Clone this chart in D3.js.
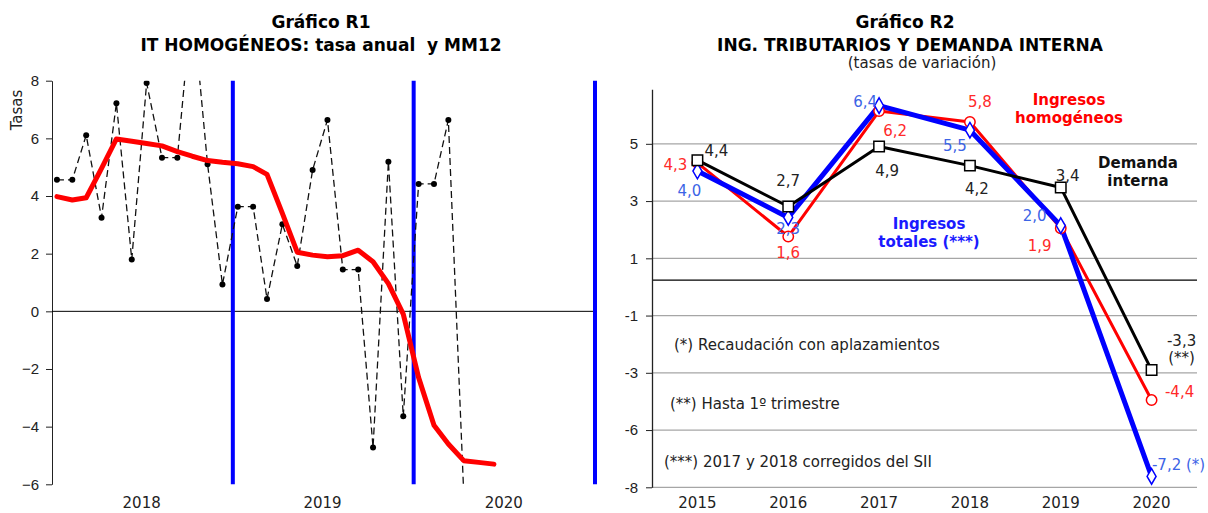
<!DOCTYPE html>
<html>
<head>
<meta charset="utf-8">
<script src="https://cdn.jsdelivr.net/npm/d3@7"></script>
<style>
  body { margin: 0; background: #fff; }
  svg { display: block; font-family: "DejaVu Sans", Verdana, sans-serif; }
  .tick line { stroke: #222; }
  .tick text { fill: #222; font-size: 15px; }
</style>
</head>
<body>
<svg id="chart" width="1208" height="513"></svg>
<script>
// ---- Gráfico R1: datos mensuales (ene-2018 .. abr-2020) y media móvil 12 meses
const itMensual = [
  4.56, 4.56, 6.11, 3.25, 7.22, 1.80, 7.92, 5.33, 5.33, 10.8, 5.10, 0.93,
  3.63, 3.63, 0.43, 3.02, 1.57, 4.90, 6.64, 1.45, 1.45, -4.72, 5.19, -3.64,
  4.42, 4.42, 6.64, -6.3];
const itMM12 = [
  3.98, 3.86, 3.94, 4.96, 5.98, 5.90, 5.82, 5.74, 5.54, 5.38, 5.23, 5.17,
  5.12, 5.02, 4.75, 3.40, 2.05, 1.95, 1.89, 1.93, 2.12, 1.72, 0.96, -0.10,
  -2.30, -3.95, -4.60, -5.18, -5.24, -5.30];
const ticksR1 = [-6, -4, -2, 0, 2, 4, 6, 8];
const yearsR1 = [2018, 2019, 2020];

// ---- Gráfico R2: tasas anuales
const anios = ['2015', '2016', '2017', '2018', '2019', '2020'];
const demanda = [4.4, 2.7, 4.9, 4.2, 3.4, -3.3];
const homogeneos = [4.3, 1.6, 6.2, 5.8, 1.9, -4.4];
const totales = [4.0, 2.3, 6.4, 5.5, 2.0, -7.2];
const demandaLab = ['4,4', '2,7', '4,9', '4,2', '3,4', '-3,3'];
const homogeneosLab = ['4,3', '1,6', '6,2', '5,8', '1,9', '-4,4'];
const totalesLab = ['4,0', '2,3', '6,4', '5,5', '2,0', '-7,2 (*)'];
// the original axis puts these labels on evenly spaced gridlines
const gridR2 = [5.0, 2.9, 0.8, -1.3, -3.4, -5.5, -7.6];
const gridR2Lab = ['5', '3', '1', '-1', '-3', '-6', '-8'];
const notas = [
  '(*) Recaudación con aplazamientos',
  '(**) Hasta 1º trimestre',
  '(***) 2017 y 2018 corregidos del SII'];

const svg = d3.select('#chart');

// ================= R1 =================
const monthDates = d3.range(30).map(i => new Date(2018, i, 11));
const x1 = d3.scaleTime()
  .domain([new Date(2018, 0, 1), new Date(2021, 0, 1)])
  .range([52, 595]);
const y1 = d3.scaleLinear().domain([-6, 8]).range([484.3, 80.7]);

svg.append('clipPath').attr('id', 'clipR1')
  .append('rect')
  .attr('x', 52).attr('y', y1(8))
  .attr('width', 543).attr('height', y1(-6) - y1(8));

const g1 = svg.append('g');

g1.append('g')
  .attr('transform', 'translate(52,0)')
  .call(d3.axisLeft(y1).tickValues(ticksR1).tickSize(6).tickSizeOuter(0).tickPadding(7))
  .call(g => g.select('.domain').attr('stroke', '#222'));

g1.append('line')
  .attr('x1', 52).attr('x2', 595)
  .attr('y1', y1(0)).attr('y2', y1(0))
  .attr('stroke', '#000');

// year separators
g1.selectAll('line.sep')
  .data(yearsR1.map(y => new Date(y + 1, 0, 1)))
  .join('line')
  .attr('class', 'sep')
  .attr('x1', d => x1(d)).attr('x2', d => x1(d))
  .attr('y1', y1(8)).attr('y2', y1(-6))
  .attr('stroke', '#0000ff')
  .attr('stroke-width', 4);

const clipped = g1.append('g').attr('clip-path', 'url(#clipR1)');

clipped.append('path')
  .datum(itMensual)
  .attr('fill', 'none')
  .attr('stroke', '#111')
  .attr('stroke-width', 1.3)
  .attr('stroke-dasharray', '7,4')
  .attr('d', d3.line().x((d, i) => x1(monthDates[i])).y(d => y1(d)));

clipped.selectAll('circle')
  .data(itMensual)
  .join('circle')
  .attr('cx', (d, i) => x1(monthDates[i]))
  .attr('cy', d => y1(d))
  .attr('r', 3)
  .attr('fill', '#000');

g1.append('path')
  .datum(itMM12)
  .attr('fill', 'none')
  .attr('stroke', '#ff0000')
  .attr('stroke-width', 5)
  .attr('stroke-linejoin', 'round')
  .attr('stroke-linecap', 'round')
  .attr('d', d3.line().x((d, i) => x1(monthDates[i])).y(d => y1(d)));

g1.selectAll('text.year')
  .data(yearsR1)
  .join('text')
  .attr('class', 'year')
  .attr('x', d => x1(new Date(d, 6, 1)))
  .attr('y', 508)
  .attr('text-anchor', 'middle')
  .attr('font-size', 15)
  .attr('fill', '#222')
  .text(d => d);

g1.append('text')
  .attr('transform', 'translate(22,110) rotate(-90)')
  .attr('text-anchor', 'middle')
  .attr('font-size', 15)
  .attr('fill', '#222')
  .text('Tasas');

g1.append('text')
  .attr('x', 321).attr('y', 28)
  .attr('text-anchor', 'middle')
  .attr('font-size', 17).attr('font-weight', 'bold')
  .text('Gráfico R1');
g1.append('text')
  .attr('x', 321).attr('y', 51)
  .attr('text-anchor', 'middle')
  .attr('font-size', 17).attr('font-weight', 'bold')
  .attr('xml:space', 'preserve')
  .text('IT HOMOGÉNEOS: tasa anual  y MM12');

// ================= R2 =================
const x2 = d3.scalePoint().domain(anios).range([652, 1197]).padding(0.5);
const y2 = d3.scaleLinear().domain([-7.6, 7.0]).range([487.3, 89.3]);

const g2 = svg.append('g');

g2.selectAll('line.grid')
  .data(gridR2)
  .join('line')
  .attr('class', 'grid')
  .attr('x1', 652).attr('x2', 1197)
  .attr('y1', d => y2(d)).attr('y2', d => y2(d))
  .attr('stroke', '#a6a6a6')
  .attr('stroke-width', 1.2);

g2.append('line')
  .attr('x1', 652).attr('x2', 1197)
  .attr('y1', y2(0)).attr('y2', y2(0))
  .attr('stroke', '#000')
  .attr('stroke-width', 1.3);

g2.append('g')
  .attr('transform', 'translate(652,0)')
  .call(d3.axisLeft(y2).tickValues(gridR2)
    .tickFormat((d, i) => gridR2Lab[i])
    .tickSize(6).tickSizeOuter(0).tickPadding(8))
  .call(g => g.select('.domain').attr('stroke', '#222').attr('stroke-width', 1.3));

g2.selectAll('text.cat')
  .data(anios)
  .join('text')
  .attr('class', 'cat')
  .attr('x', d => x2(d))
  .attr('y', 508)
  .attr('text-anchor', 'middle')
  .attr('font-size', 15)
  .attr('fill', '#222')
  .text(d => d);

const series = [
  { values: homogeneos, labels: homogeneosLab, color: '#ff0000', width: 3, text: '#ff2a2a',
    marker: 'circle',
    off: [[-22, 2], [0, 16], [16, 20], [10, -20], [-21, 17], [28, -8]] },
  { values: totales, labels: totalesLab, color: '#0000ff', width: 5, text: '#3c64e6',
    marker: 'diamond',
    off: [[-8, 20], [0, 11], [-14, -4], [-15, 16], [-26, -10], [27, -12]] },
  { values: demanda, labels: demandaLab, color: '#000000', width: 3, text: '#222',
    marker: 'square',
    off: [[19, -9], [0, -26], [8, 24], [7, 23], [7, -12], [30, -29]] },
];

const line2 = d3.line().x((d, i) => x2(anios[i])).y(d => y2(d));

series.forEach(s => {
  g2.append('path')
    .datum(s.values)
    .attr('fill', 'none')
    .attr('stroke', s.color)
    .attr('stroke-width', s.width)
    .attr('stroke-linejoin', 'round')
    .attr('d', line2);
});

const symbols = {
  circle: d3.symbol().type(d3.symbolCircle).size(85),
  square: d3.symbol().type(d3.symbolSquare).size(110),
  diamond: d3.symbol().type(d3.symbolDiamond).size(70),
};

series.forEach(s => {
  g2.selectAll(null)
    .data(s.values)
    .join('path')
    .attr('transform', (d, i) => `translate(${x2(anios[i])},${y2(d)})`)
    .attr('d', symbols[s.marker])
    .attr('fill', '#fff')
    .attr('stroke', s.color)
    .attr('stroke-width', 1.5);
});

series.forEach(s => {
  g2.selectAll(null)
    .data(s.values)
    .join('text')
    .attr('x', (d, i) => x2(anios[i]) + s.off[i][0])
    .attr('y', (d, i) => y2(d) + s.off[i][1])
    .attr('dy', '0.35em')
    .attr('text-anchor', 'middle')
    .attr('font-size', 15)
    .attr('fill', s.text)
    .text((d, i) => s.labels[i]);
});

g2.append('text')
  .attr('x', x2('2020') + 30).attr('y', y2(-3.3) - 12)
  .attr('dy', '0.35em')
  .attr('text-anchor', 'middle')
  .attr('font-size', 15)
  .attr('fill', '#222')
  .text('(**)');

// series names
const names = [
  { lines: ['Ingresos', 'homogéneos'], x: 1069, y: 100, color: '#ff0000' },
  { lines: ['Demanda', 'interna'], x: 1138, y: 163, color: '#111' },
  { lines: ['Ingresos', 'totales (***)'], x: 929, y: 224, color: '#1a1aff' },
];
names.forEach(n => {
  n.lines.forEach((t, i) => {
    g2.append('text')
      .attr('x', n.x).attr('y', n.y + i * 18)
      .attr('dy', '0.35em')
      .attr('text-anchor', 'middle')
      .attr('font-size', 15).attr('font-weight', 'bold')
      .attr('fill', n.color)
      .text(t);
  });
});

g2.selectAll('text.nota')
  .data(notas)
  .join('text')
  .attr('class', 'nota')
  .attr('x', (d, i) => [674, 670, 664][i])
  .attr('y', (d, i) => [345, 404, 462][i])
  .attr('dy', '0.35em')
  .attr('font-size', 15)
  .attr('fill', '#222')
  .text(d => d);

g2.append('text')
  .attr('x', 905).attr('y', 28)
  .attr('text-anchor', 'middle')
  .attr('font-size', 17).attr('font-weight', 'bold')
  .text('Gráfico R2');
g2.append('text')
  .attr('x', 910).attr('y', 51)
  .attr('text-anchor', 'middle')
  .attr('font-size', 17).attr('font-weight', 'bold')
  .text('ING. TRIBUTARIOS Y DEMANDA INTERNA');
g2.append('text')
  .attr('x', 922).attr('y', 68)
  .attr('text-anchor', 'middle')
  .attr('font-size', 15)
  .attr('fill', '#222')
  .text('(tasas de variación)');
</script>
</body>
</html>
